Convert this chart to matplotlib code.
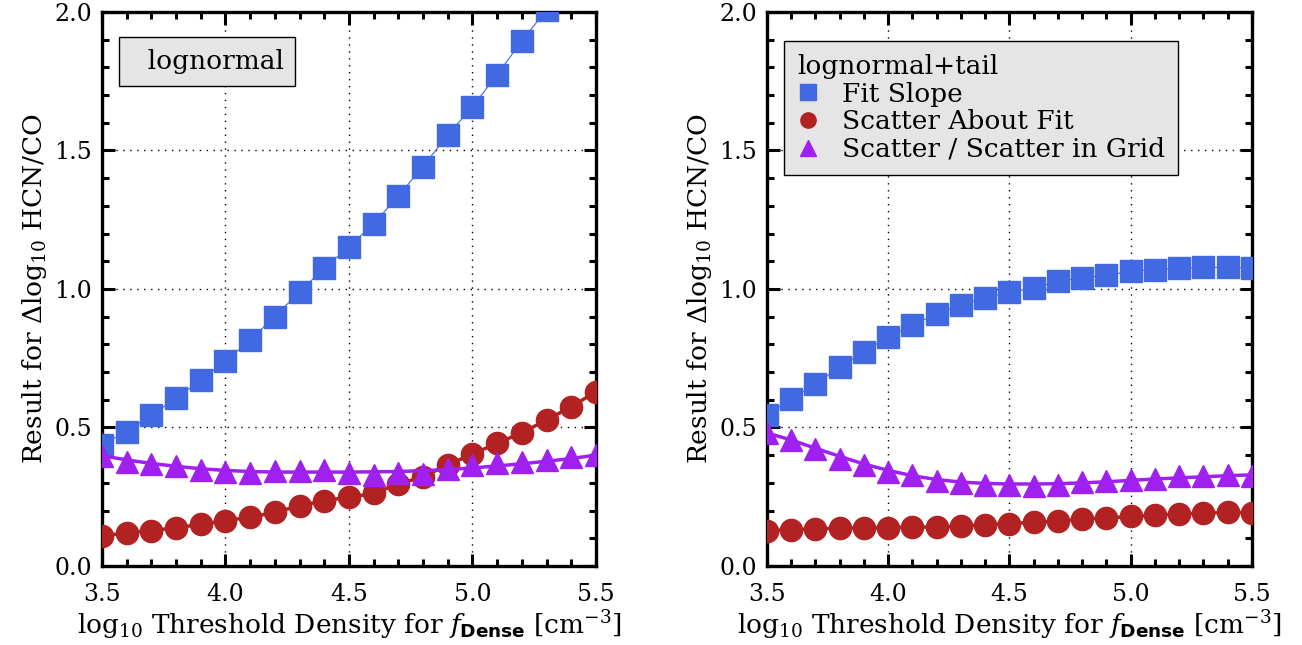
import numpy as np
import matplotlib
matplotlib.use('Agg')
import matplotlib.pyplot as plt
from matplotlib.lines import Line2D
from matplotlib.ticker import MultipleLocator

# threshold densities (log10 cm^-3)
dens = [3.5, 3.6, 3.7, 3.8, 3.9, 4.0, 4.1, 4.2, 4.3, 4.4, 4.5,
        4.6, 4.7, 4.8, 4.9, 5.0, 5.1, 5.2, 5.3, 5.4, 5.5]

# lognormal
slope_ln = [0.437, 0.485, 0.545, 0.605, 0.671, 0.740, 0.816, 0.900, 0.990, 1.075, 1.153,
            1.235, 1.336, 1.442, 1.556, 1.658, 1.773, 1.896, 2.007, 2.130, 2.260]
scat_ln = [0.108, 0.120, 0.128, 0.138, 0.150, 0.164, 0.176, 0.194, 0.217, 0.236, 0.248,
           0.262, 0.296, 0.322, 0.365, 0.404, 0.443, 0.481, 0.527, 0.575, 0.629]
ratio_ln = [0.398, 0.376, 0.368, 0.361, 0.347, 0.340, 0.335, 0.343, 0.343, 0.347, 0.337,
            0.329, 0.337, 0.331, 0.349, 0.365, 0.373, 0.375, 0.383, 0.392, 0.401]
ratio_ln_smooth = [0.398, 0.383, 0.370, 0.360, 0.351, 0.345, 0.341, 0.339, 0.339, 0.339, 0.339,
                   0.340, 0.341, 0.344, 0.348, 0.354, 0.361, 0.369, 0.378, 0.388, 0.400]

# lognormal + power-law tail
slope_tail = [0.545, 0.603, 0.656, 0.719, 0.773, 0.827, 0.869, 0.911, 0.942, 0.968, 0.988,
              1.003, 1.027, 1.040, 1.049, 1.064, 1.070, 1.075, 1.078, 1.078, 1.076]
scat_tail = [0.128, 0.131, 0.134, 0.136, 0.138, 0.137, 0.141, 0.140, 0.143, 0.149, 0.153,
             0.158, 0.161, 0.170, 0.173, 0.179, 0.183, 0.188, 0.190, 0.194, 0.192]
ratio_tail = [0.479, 0.454, 0.424, 0.386, 0.364, 0.338, 0.330, 0.305, 0.299, 0.292, 0.293,
              0.287, 0.292, 0.303, 0.305, 0.312, 0.315, 0.324, 0.325, 0.329, 0.326]
ratio_tail_smooth = [0.480, 0.455, 0.425, 0.396, 0.368, 0.345, 0.326, 0.312, 0.303, 0.298, 0.296,
                     0.296, 0.297, 0.300, 0.304, 0.309, 0.314, 0.318, 0.322, 0.326, 0.329]

BLUE = '#4169E1'
RED = '#B22222'
PURPLE = '#A020F0'
FS_TICK = 17
FS = 19

plt.rcParams['font.family'] = ['DejaVu Serif']
plt.rcParams['mathtext.fontset'] = 'custom'
plt.rcParams['mathtext.rm'] = 'DejaVu Serif'
plt.rcParams['mathtext.it'] = 'DejaVu Serif:italic'
plt.rcParams['mathtext.bf'] = 'DejaVu Sans:bold'

fig = plt.figure(figsize=(13.02, 6.45), dpi=100)
ax1 = fig.add_axes([0.0783, 0.1225, 0.3794, 0.859])
ax2 = fig.add_axes([0.589, 0.1225, 0.3725, 0.859])


def panel(ax, slope, scat, ratio, ratio_smooth):
    ax.plot(dens, slope, color=BLUE, lw=0.8, marker='s', ms=16, mec=BLUE, zorder=3)
    ax.plot(dens, scat, color=RED, lw=2.5, marker='o', ms=16, mec=RED, zorder=4)
    ax.plot(dens, ratio_smooth, color=PURPLE, lw=2.5, zorder=5)
    ax.plot(dens, ratio, ls='none', color=PURPLE, marker='^', ms=16, mec=PURPLE, zorder=5)

    ax.set_xlim(3.5, 5.5)
    ax.set_ylim(0.0, 2.0)
    ax.xaxis.set_major_locator(MultipleLocator(0.5))
    ax.xaxis.set_minor_locator(MultipleLocator(0.1))
    ax.yaxis.set_major_locator(MultipleLocator(0.5))
    ax.yaxis.set_minor_locator(MultipleLocator(0.1))
    ax.xaxis.set_major_formatter('{x:.1f}')
    ax.yaxis.set_major_formatter('{x:.1f}')
    ax.tick_params(which='both', direction='in', top=True, right=True, width=2.2)
    ax.tick_params(which='major', length=9, labelsize=FS_TICK)
    ax.tick_params(which='minor', length=5)
    ax.tick_params(axis='x', pad=12)
    ax.tick_params(axis='y', pad=7)
    for s in ax.spines.values():
        s.set_linewidth(2.4)
    ax.grid(True, which='major', color='black', lw=1, ls=(0, (1, 4)))
    ax.set_axisbelow(True)
    ax.set_xlabel(r'log$_{10}$ Threshold Density for $f_{\mathbf{Dense}}$ [cm$^{-3}$]',
                  fontsize=FS, labelpad=2)
    ax.set_ylabel(r'Result for $\Delta$log$_{10}$ HCN/CO', fontsize=FS, labelpad=4)


panel(ax1, slope_ln, scat_ln, ratio_ln, ratio_ln_smooth)
panel(ax2, slope_tail, scat_tail, ratio_tail, ratio_tail_smooth)

# label box, left panel
ax1.text(0.058, 0.910, '  lognormal', transform=ax1.transAxes, fontsize=FS,
         va='center', ha='left', zorder=10,
         bbox=dict(boxstyle='square,pad=0.45', facecolor='#e5e5e5', edgecolor='black', lw=1))

# legend, right panel
handles = [Line2D([], [], ls='none', marker='s', ms=11, color=BLUE),
           Line2D([], [], ls='none', marker='o', ms=11, color=RED),
           Line2D([], [], ls='none', marker='^', ms=11, color=PURPLE)]
labels = ['Fit Slope', 'Scatter About Fit', 'Scatter / Scatter in Grid']
leg = ax2.legend(handles, labels, title='lognormal+tail', loc='upper left',
                 bbox_to_anchor=(0.0357, 0.948), borderaxespad=0, fontsize=FS,
                 title_fontsize=FS, alignment='left', fancybox=False,
                 facecolor='#e5e5e5', edgecolor='black', framealpha=1,
                 handlelength=0.8, handletextpad=0.9, labelspacing=0.1,
                 borderpad=0.5)
leg.get_frame().set_linewidth(1)
leg.set_zorder(10)

fig.savefig('out.png', dpi=100)
